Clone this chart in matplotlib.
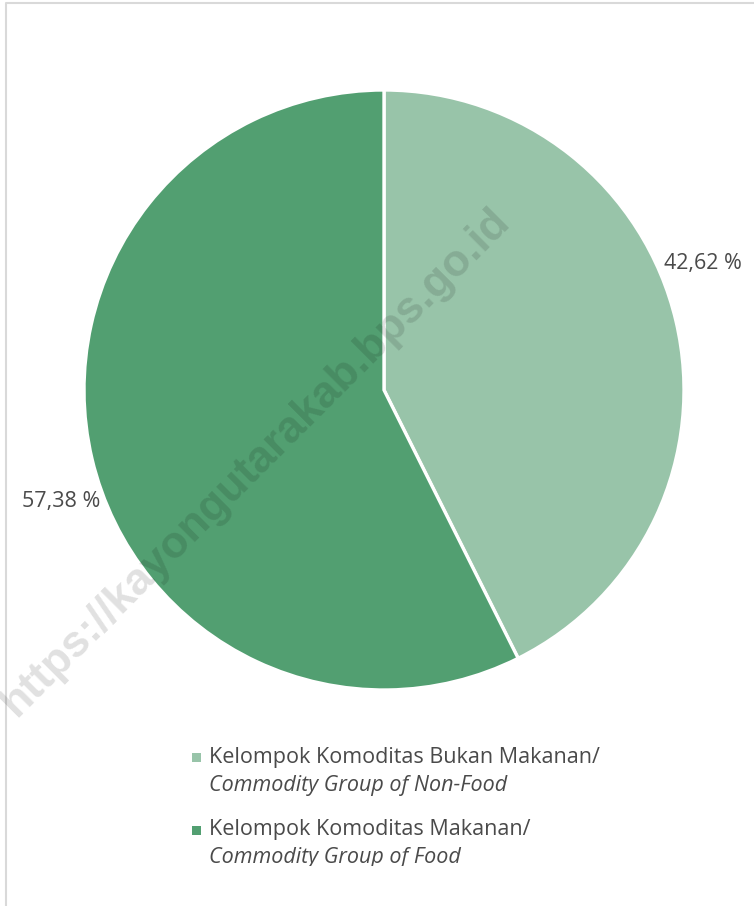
import matplotlib
matplotlib.use("Agg")
import matplotlib.pyplot as plt
from matplotlib.lines import Line2D
from matplotlib.patches import Rectangle

# data
shares = [42.62, 57.38]
value_labels = ["42,62 %", "57,38 %"]
legend_id = ["Kelompok Komoditas Bukan Makanan/", "Kelompok Komoditas Makanan/"]
legend_en = ["Commodity Group of Non-Food", "Commodity Group of Food"]
colors = ["#98C4A9", "#529F71"]

W, H = 754, 906
plt.rcParams['font.family'] = ['Open Sans', 'DejaVu Sans']
text_color = "#4A4A4A"

fig = plt.figure(figsize=(W / 100, H / 100), dpi=100)


def fx(px):
    return px / W


def fy(py):
    return 1 - py / H


# pie axes: centre (384, 390), radius 300 px
ax = fig.add_axes([fx(84), fy(690), 600 / W, 600 / H])
wedges, _ = ax.pie(shares, colors=colors, startangle=90, counterclock=False,
                   wedgeprops=dict(edgecolor="white", linewidth=2.4))
ax.set_xlim(-1, 1)
ax.set_ylim(-1, 1)
ax.set_aspect("equal")
ax.axis("off")

label_pos = [(1.063, 0.42), (-1.077, -0.373)]
for (x, y), lab in zip(label_pos, value_labels):
    ax.text(x, y, lab, ha="center", va="center", fontsize=15.5,
            color=text_color, clip_on=False)

# legend drawn by hand (two lines per entry, second in italic)
clip = Rectangle((0, fy(866)), 1, 1, transform=fig.transFigure)
entry_y = [757, 830]
for i, y in enumerate(entry_y):
    fig.patches.append(Rectangle((fx(192), fy(y + 4.5)), 9 / W, 9 / H,
                                 transform=fig.transFigure,
                                 facecolor=colors[i], edgecolor="none"))
    fig.text(fx(209), fy(y), legend_id[i], ha="left", va="center",
             fontsize=15.5, color=text_color)
    t = fig.text(fx(209), fy(y + 28), legend_en[i], ha="left", va="center",
                 fontsize=15.5, color=text_color, style="italic")
    t.set_clip_path(clip)

# watermark
fig.text(fx(256), fy(462), "https://kayongutarakab.bps.go.id", rotation=45,
         rotation_mode="anchor", ha="center", va="center",
         fontsize=32, fontweight="bold", family="Liberation Sans",
         color="black", alpha=0.12)

# frame lines at top and left
fig.lines.append(Line2D([fx(6), fx(6), 1], [0, fy(2.5), fy(2.5)],
                        transform=fig.transFigure, color="#D9D9D9", linewidth=1.5))

fig.savefig("out.png", dpi=100)
